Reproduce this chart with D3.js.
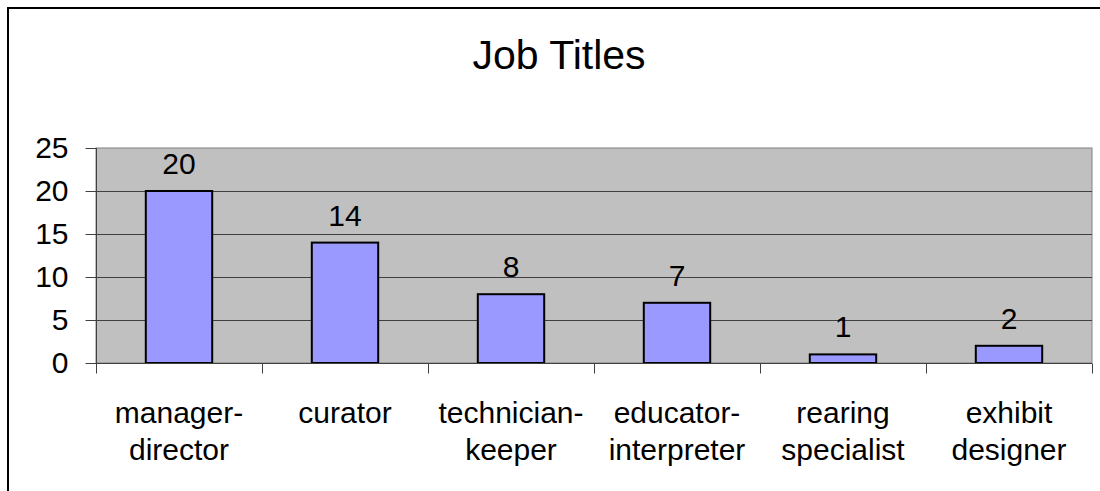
<!DOCTYPE html>
<html>
<head>
<meta charset="utf-8">
<script src="https://cdn.jsdelivr.net/npm/d3@7"></script>
<style>
  html, body { margin: 0; padding: 0; background: #fff; }
  svg { display: block; }
  text { font-family: "Liberation Sans", Arial, sans-serif; fill: #000; }
</style>
</head>
<body>
<svg id="chart" width="1100" height="491"></svg>
<script>
const title = "Job Titles";
const categories = [
  ["manager-", "director"],
  ["curator"],
  ["technician-", "keeper"],
  ["educator-", "interpreter"],
  ["rearing", "specialist"],
  ["exhibit", "designer"]
];
const values = [20, 14, 8, 7, 1, 2];
const yTicks = [0, 5, 10, 15, 20, 25];

const svg = d3.select("#chart");
const W = 1100, H = 491;
const plot = { left: 96, right: 1092, top: 148, bottom: 363 };
const fs = "30px";

svg.append("rect").attr("width", W).attr("height", H).attr("fill", "#fff");
// outer chart border
svg.append("rect")
  .attr("x", 8).attr("y", 8).attr("width", 1110).attr("height", 500)
  .attr("fill", "none").attr("stroke", "#000").attr("stroke-width", 2);

const catKeys = categories.map(c => c.join(" "));
const x = d3.scaleBand().domain(catKeys).range([plot.left, plot.right]).padding(0);
const y = d3.scaleLinear().domain([0, 25]).range([plot.bottom, plot.top]);

// plot background
svg.append("rect")
  .attr("x", plot.left).attr("y", plot.top)
  .attr("width", plot.right - plot.left).attr("height", plot.bottom - plot.top)
  .attr("fill", "#c0c0c0").attr("stroke", "#808080").attr("stroke-width", 1);

// gridlines
svg.append("g").selectAll("line").data(yTicks.filter(t => t > 0 && t < 25)).join("line")
  .attr("x1", plot.left).attr("x2", plot.right)
  .attr("y1", d => Math.round(y(d)) + 0.5).attr("y2", d => Math.round(y(d)) + 0.5)
  .attr("stroke", "#404040").attr("stroke-width", 1);

// y axis
const yAxis = d3.axisLeft(y).tickValues(yTicks).tickSize(11).tickPadding(17);
const gy = svg.append("g").attr("transform", `translate(${plot.left + 0.5},0)`).call(yAxis);
gy.select(".domain").attr("stroke", "#404040").attr("d", `M0,${plot.top}V${plot.bottom}`);
gy.selectAll(".tick line").attr("stroke", "#404040");
gy.selectAll(".tick text").style("font-size", fs).attr("font-family", "Liberation Sans, Arial, sans-serif").attr("fill", "#000");

// bars
const step = x.step();
const barW = step * 0.4;
svg.append("g").selectAll("rect").data(values).join("rect")
  .attr("x", (d, i) => x(catKeys[i]) + (step - barW) / 2)
  .attr("y", d => y(d))
  .attr("width", barW)
  .attr("height", d => y(0) - y(d))
  .attr("fill", "#9999ff").attr("stroke", "#000").attr("stroke-width", 2);

// value labels
svg.append("g").selectAll("text").data(values).join("text")
  .attr("x", (d, i) => x(catKeys[i]) + step / 2)
  .attr("y", d => y(d) - 17)
  .attr("text-anchor", "middle")
  .style("font-size", fs)
  .text(d => d);

// x axis
const xAxis = d3.axisBottom(x).tickSize(0).tickFormat("");
const gx = svg.append("g").attr("transform", `translate(0,${plot.bottom + 0.5})`).call(xAxis);
gx.select(".domain").attr("stroke", "#404040").attr("d", `M${plot.left},0H${plot.right}`);
// tick marks at band boundaries
const bounds = catKeys.map(k => x(k)).concat([plot.right]);
gx.selectAll(".bnd").data(bounds).join("line").attr("class", "bnd")
  .attr("x1", d => Math.round(d) + 0.5).attr("x2", d => Math.round(d) + 0.5)
  .attr("y1", 0).attr("y2", 10).attr("stroke", "#404040");

// category labels
const lbl = svg.append("g").selectAll("text").data(categories).join("text")
  .attr("text-anchor", "middle")
  .style("font-size", fs)
  .attr("x", (d, i) => x(catKeys[i]) + step / 2)
  .attr("y", 423);
lbl.selectAll("tspan").data(d => d).join("tspan")
  .attr("x", function() { return d3.select(this.parentNode).attr("x"); })
  .attr("dy", (d, j) => j === 0 ? 0 : 37)
  .text(d => d);

// title
svg.append("text")
  .attr("x", 559).attr("y", 69)
  .attr("text-anchor", "middle")
  .style("font-size", "41px")
  .text(title);
</script>
</body>
</html>
